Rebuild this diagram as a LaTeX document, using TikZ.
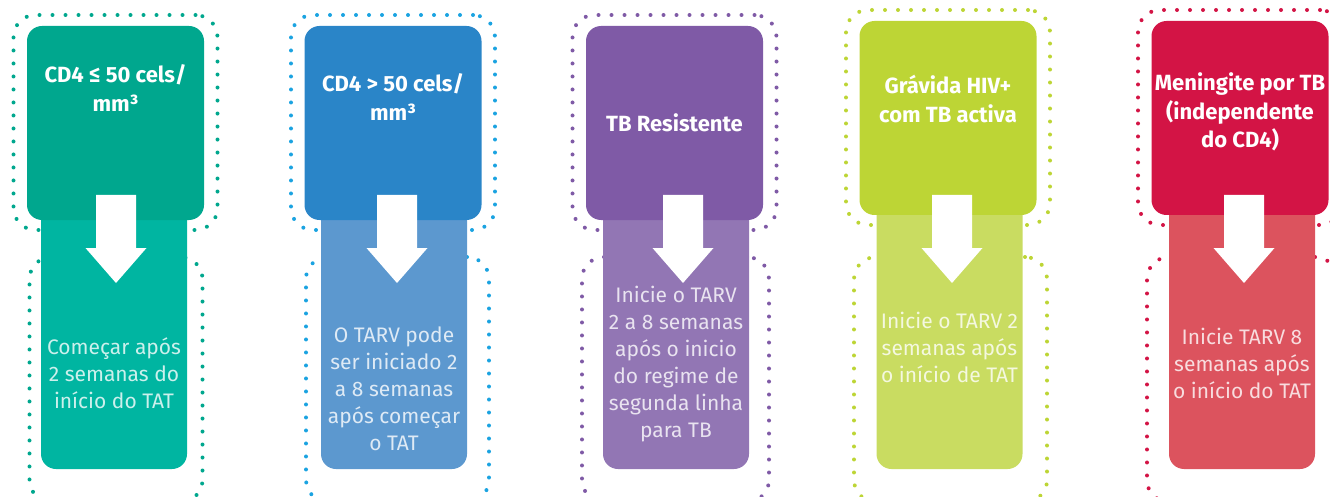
\documentclass[tikz,border=0pt]{standalone}
\usepackage{fontspec}
\setmainfont{Fira Sans}

\definecolor{dark1}{HTML}{00A78E}
\definecolor{pale1}{HTML}{00B5A1}
\definecolor{dots1}{HTML}{00A78E}
\definecolor{dark2}{HTML}{2A85C8}
\definecolor{pale2}{HTML}{5C98CF}
\definecolor{dots2}{HTML}{1BA3E1}
\definecolor{dark3}{HTML}{7F5AA6}
\definecolor{pale3}{HTML}{9276B4}
\definecolor{dots3}{HTML}{7F5AA6}
\definecolor{dark4}{HTML}{BDD535}
\definecolor{pale4}{HTML}{C9DC61}
\definecolor{dots4}{HTML}{BDD535}
\definecolor{dark5}{HTML}{D31445}
\definecolor{pale5}{HTML}{DC535E}
\definecolor{dots5}{HTML}{D31445}

\tikzset{
  ring/.style={draw=#1, line width=4pt, line cap=round,
    dash pattern=on 0pt off 13pt, rounded corners=22pt, inner sep=0pt},
  headbox/.style={fill=#1, rounded corners=15pt, inner sep=0pt,
    minimum width=177pt, minimum height=194pt},
  bodybox/.style={fill=#1, rounded corners=15pt, inner sep=0pt,
    minimum width=146pt, minimum height=289pt},
  headtext/.style={text=white, align=center,
    font=\bfseries\fontsize{22}{28.5}\selectfont},
  bodytext/.style={text=white, text opacity=0.8, align=center,
    font=\fontsize{21}{27}\selectfont}
}

\begin{document}
\begin{tikzpicture}[x=1pt,y=-1pt]
   \useasboundingbox (0,0) rectangle (1330,497);
   \clip (0,0) rectangle (1330,497);
   \foreach \i/\cx/\dy/\lx/\ox/\ow/\ax in
     { 1/115.5/0/114/116/173/116,
       2/393/0/394/397.5/183/397,
       3/674.5/0/676/675.5/187/683,
       4/948/-5/949.5/950.5/193/952,
       5/1240/-5/1242/1242/190/1244
     }
   {
     \node[ring=dots\i, minimum width=204pt, minimum height=215pt] (ringa\i) at (\cx,122.5+\dy) {};
     \node[ring=dots\i, minimum width=\ow pt, minimum height=245pt] (ringb\i) at (\ox,379.5) {};
     \node[bodybox=pale\i] (low\i) at (\lx,324.5) {};
     \node[headbox=dark\i] (top\i) at (\cx,123+\dy) {};
     \coordinate (arr\i) at (\ax,195);
     \coordinate (tip\i) at (\ax,283);
     \fill[white] (arr\i) ++(-20,0) -- ++(0,53) -- ++(-10.5,0) -- (tip\i)
        -- ++(30.5,-35) -- ++(-10.5,0) -- ++(0,-53) -- cycle;
   }
   % headings
   \node[headtext] (head1) at (115.5,88) {CD4 ≤ 50 cels/\\mm³};
   \node[headtext] (head2) at (393,97) {CD4 > 50 cels/\\mm³};
   \node[headtext] (head3) at (674.5,123) {TB Resistente};
   \node[headtext] (head4) at (948,99) {Grávida HIV+\\com TB activa};
   \node[headtext] (head5) at (1240,112) {Meningite por TB\\(independente\\do CD4)};
   % timing
   \node[bodytext] (body1) at (114,373) {Começar após\\2 semanas do\\início do TAT};
   \node[bodytext] (body2) at (394,389) {O TARV pode\\ser iniciado 2\\a 8 semanas\\após começar\\o TAT};
   \node[bodytext] (body3) at (676,364) {Inicie o TARV\\2 a 8 semanas\\após o inicio\\do regime de\\segunda linha\\para TB};
   \node[bodytext] (body4) at (949.5,347) {Inicie o TARV 2\\semanas após\\o início de TAT};
   \node[bodytext] (body5) at (1242,363) {Inicie TARV 8\\semanas após\\o início do TAT};
\end{tikzpicture}
\end{document}
